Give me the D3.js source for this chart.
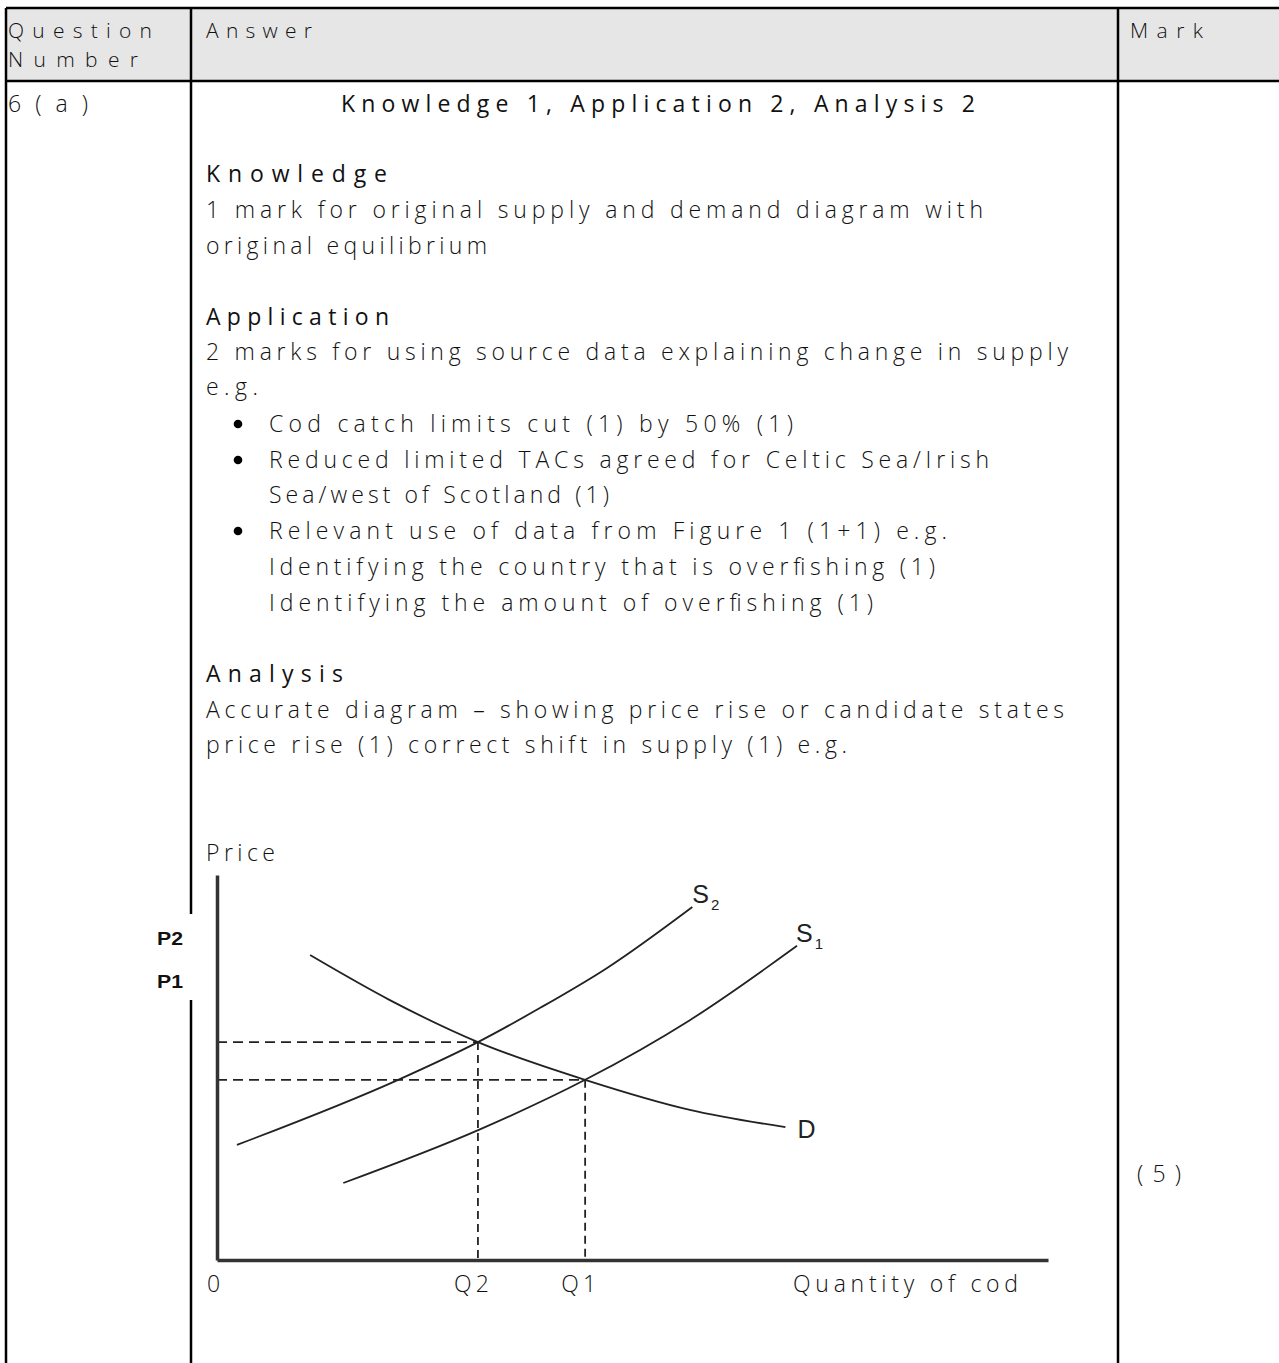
<!DOCTYPE html>
<html><head><meta charset="utf-8">
<script src="https://cdn.jsdelivr.net/npm/d3@7"></script>
<style>html,body{margin:0;padding:0;background:#fff;}svg{display:block;}</style>
</head><body>
<script>
// ---- data ----
const headerLabels = ["Question", "Number", "Answer", "Mark"];
const questionId = "6(a)";
const markTotal = "(5)";
const answerLines = [
  "Knowledge 1, Application 2, Analysis 2",
  "Knowledge",
  "1 mark for original supply and demand diagram with",
  "original equilibrium",
  "Application",
  "2 marks for using source data explaining change in supply",
  "e.g.",
  "Cod catch limits cut (1) by 50% (1)",
  "Reduced limited TACs agreed for Celtic Sea/Irish",
  "Sea/west of Scotland (1)",
  "Relevant use of data from Figure 1 (1+1) e.g.",
  "Identifying the country that is overfishing (1)",
  "Identifying the amount of overfishing (1)",
  "Analysis",
  "Accurate diagram \u2013 showing price rise or candidate states",
  "price rise (1) correct shift in supply (1) e.g."
];
const bulletLineIdx = [7, 8, 10];
const headingLineIdx = [0, 1, 4, 13];
// diagram (quantity 0-100, price 0-100)
const supplyS1 = [[15.2,20.0],[31.5,33.8],[44.3,46.8],[56.9,62.3],[69.8,81.6]];
const supplyS2 = [[2.4,29.9],[21.8,46.8],[31.4,56.6],[38.9,65.5],[46.9,75.8],[57.2,91.7]];
const demandD  = [[11.2,79.2],[20.8,67.5],[31.4,56.6],[44.3,46.8],[56.9,39.0],[68.4,34.5]];
const equilibria = [{q:31.4, p:56.6}, {q:44.3, p:46.8}];
const qTickLabels = [{v:0,t:"0"},{v:31.4,t:"Q2"},{v:44.3,t:"Q1"}];
const pLabels = ["P2", "P1"];
const xAxisTitle = "Quantity of cod";
const yAxisTitle = "Price";
const curveLabels = [{name:"S", sub:"2"}, {name:"S", sub:"1"}, {name:"D", sub:""}];

// ---- layout ----
const W = 1279, H = 1363;
const svg = d3.select("body").append("svg").attr("width", W).attr("height", H);
const FONT = "'Open Sans', 'DejaVu Sans', sans-serif";
const ink = "#111";

// header background
svg.append("rect").attr("x", 6).attr("y", 8).attr("width", W - 6).attr("height", 73).attr("fill", "#e6e6e6");

// borders
const bw = 2.5;
const lines = [
  [6, 8, W, 8], [6, 81, W, 81],
  [6, 8, 6, H],
  [191, 8, 191, 914], [191, 1000, 191, H],
  [1118, 8, 1118, H]
];
svg.append("g").selectAll("line").data(lines).join("line")
  .attr("x1", d => d[0]).attr("y1", d => d[1]).attr("x2", d => d[2]).attr("y2", d => d[3])
  .attr("stroke", "#000").attr("stroke-width", bw);

function txt(s, x, y, len, opts = {}) {
  const t = svg.append("text").attr("x", x).attr("y", y).text(s)
    .attr("font-family", opts.family || FONT)
    .attr("font-size", opts.size || 23)
    .attr("font-weight", opts.weight || 300)
    .attr("fill", opts.fill || ink);
  if (len) t.attr("textLength", len).attr("lengthAdjust", opts.adjust || "spacing");
  if (opts.anchor) t.attr("text-anchor", opts.anchor);
  return t;
}

// header text
txt(headerLabels[0], 8, 38, 144, {size: 21});
txt(headerLabels[1], 8, 67, 130, {size: 21});
txt(headerLabels[2], 206, 38, 106, {size: 21});
txt(headerLabels[3], 1130, 38, 73, {size: 21});

// row
txt(questionId, 8, 112, 80);

const lineLayout = [
  {x:341, y:112, w:634},
  {x:206, y:182, w:181},
  {x:206, y:218, w:777},
  {x:206, y:254, w:281},
  {x:206, y:325, w:183},
  {x:206, y:360, w:862},
  {x:206, y:395, w:52},
  {x:269, y:432, w:524},
  {x:269, y:468, w:720},
  {x:269, y:503, w:340},
  {x:269, y:539, w:678},
  {x:269, y:575, w:666},
  {x:269, y:611, w:604},
  {x:206, y:682, w:137},
  {x:206, y:718, w:858},
  {x:206, y:753, w:641}
];
answerLines.forEach((s, i) => {
  const L = lineLayout[i];
  txt(s, L.x, L.y, L.w, {weight: headingLineIdx.includes(i) ? 400 : 300});
});
svg.append("g").selectAll("circle").data(bulletLineIdx).join("circle")
  .attr("cx", 238).attr("cy", i => lineLayout[i].y - 8).attr("r", 4.3).attr("fill", "#000");

txt(markTotal, 1137, 1182, 44);

// ---- diagram ----
const x = d3.scaleLinear().domain([0, 100]).range([217, 1048]);
const y = d3.scaleLinear().domain([0, 100]).range([1260, 875]);

const g = svg.append("g");
const line = d3.line().x(d => x(d[0])).y(d => y(d[1])).curve(d3.curveMonotoneX);

// dashed guides
equilibria.forEach(e => {
  g.append("line").attr("x1", x(0)).attr("x2", x(e.q)).attr("y1", y(e.p)).attr("y2", y(e.p))
    .attr("stroke", "#222").attr("stroke-width", 1.8).attr("stroke-dasharray", "10,6");
  g.append("line").attr("x1", x(e.q)).attr("x2", x(e.q)).attr("y1", y(e.p)).attr("y2", y(0))
    .attr("stroke", "#222").attr("stroke-width", 1.8).attr("stroke-dasharray", "8,5");
});

[supplyS2, supplyS1, demandD].forEach(c => {
  g.append("path").attr("d", line(c)).attr("fill", "none").attr("stroke", "#222").attr("stroke-width", 1.8);
});

// axes
const xAxis = d3.axisBottom(x).tickValues([]).tickSizeOuter(0);
const yAxis = d3.axisLeft(y).tickValues([]).tickSizeOuter(0);
const gx = g.append("g").attr("transform", `translate(0,${y(0)})`).call(xAxis);
const gy = g.append("g").attr("transform", `translate(${x(0)},0)`).call(yAxis);
[gx, gy].forEach(a => a.select(".domain").attr("stroke", "#333").attr("stroke-width", 3.5));

// axis labels
const tickW = {"0":14, "Q2":35, "Q1":35};
qTickLabels.forEach(d => {
  txt(d.t, x(d.v) - (d.t === "0" ? 10 : 24), 1292, tickW[d.t]);
});
txt(xAxisTitle, 793, 1292, 225);
txt(yAxisTitle, 206, 861, 69);

// P labels
const ARIAL = "'Liberation Sans', Arial, sans-serif";
txt(pLabels[0], 157, 945, 26, {family: ARIAL, size: 18, weight: 700, adjust: "spacingAndGlyphs"});
txt(pLabels[1], 157, 988, 26, {family: ARIAL, size: 18, weight: 700, adjust: "spacingAndGlyphs"});

// curve labels
const ends = [supplyS2[supplyS2.length-1], supplyS1[supplyS1.length-1], demandD[demandD.length-1]];
const labOff = [{dx:0, dy:-4}, {dx:-1, dy:-4}, {dx:12, dy:11}];
curveLabels.forEach((c, i) => {
  const e = ends[i];
  const t = svg.append("text").attr("x", x(e[0]) + labOff[i].dx).attr("y", y(e[1]) + labOff[i].dy)
    .attr("font-family", ARIAL).attr("font-size", 25).attr("fill", "#222").text(c.name);
  if (c.sub) t.append("tspan").attr("font-size", 15).attr("dx", 2).attr("dy", 7).text(c.sub);
});
</script>
</body></html>
